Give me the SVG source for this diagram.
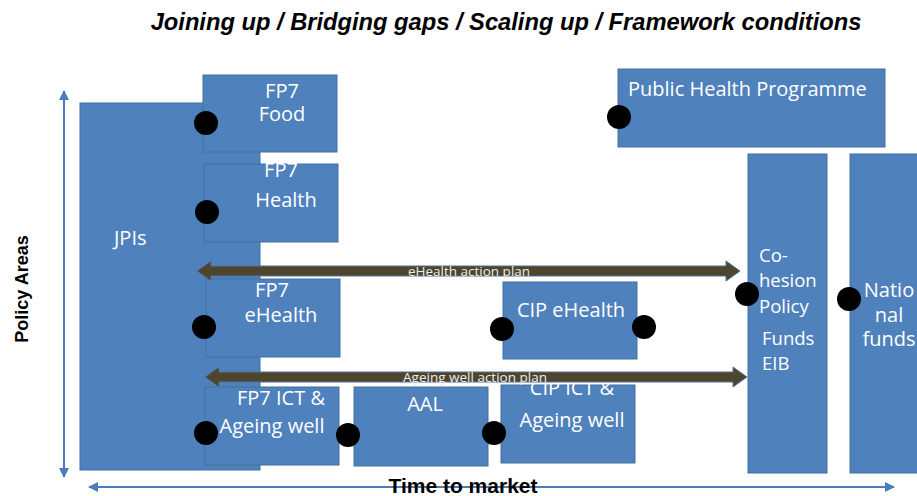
<svg xmlns="http://www.w3.org/2000/svg" width="917" height="496" viewBox="0 0 917 496">
<defs>
<style>
.box{fill:#4f81bd;stroke:#41709f;stroke-width:1}
.lbl{fill:#ffffff;font-family:"Open Sans","Noto Sans",sans-serif;font-size:20px}
.lbl18{fill:#ffffff;font-family:"Open Sans","Noto Sans",sans-serif;font-size:18.5px}
.dot{fill:#000000}
.axis{stroke:#4a7ebb;stroke-width:2;fill:none}
.plan{fill:#4d452c;stroke:#52709a;stroke-width:1}
.plbl{fill:#ececec;font-family:"Open Sans","Noto Sans",sans-serif;font-size:13.5px;text-anchor:middle}
.bold{font-family:"Liberation Sans",Arial,sans-serif;font-weight:bold;fill:#000}
</style>
<marker id="ah" viewBox="0 0 10 10" refX="9" refY="5" markerWidth="5" markerHeight="5" orient="auto-start-reverse" markerUnits="strokeWidth">
<path d="M0,0 L10,5 L0,10 z" fill="#4a7ebb"/>
</marker>
</defs>
<rect width="917" height="496" fill="#ffffff"/>

<text class="bold" x="506" y="30" font-size="23.7" font-style="italic" text-anchor="middle">Joining up / Bridging gaps / Scaling up / Framework conditions</text>

<g id="axes">
<line class="axis" x1="64" y1="477" x2="64" y2="91" marker-start="url(#ah)" marker-end="url(#ah)"/>
<line class="axis" x1="89" y1="487" x2="894" y2="487" marker-start="url(#ah)" marker-end="url(#ah)"/>
<text class="bold" font-size="18" text-anchor="middle" transform="translate(28,289) rotate(-90)">Policy Areas</text>
<text class="bold" font-size="21" x="463" y="493" text-anchor="middle">Time to market</text>
</g>

<g id="jpis">
<rect class="box" x="80" y="103" width="180" height="367"/>
<text class="lbl" x="114" y="245">JPIs</text>
</g>

<g id="fp7-food">
<rect class="box" x="203" y="75" width="134" height="77"/>
<text class="lbl" x="282" y="98" text-anchor="middle">FP7</text>
<text class="lbl" x="282" y="121" text-anchor="middle">Food</text>
<circle class="dot" cx="206" cy="123" r="12"/>
</g>

<g id="fp7-health">
<rect class="box" x="204" y="164" width="134" height="78"/>
<text class="lbl" x="281" y="177" text-anchor="middle">FP7</text>
<text class="lbl" x="286" y="207" text-anchor="middle">Health</text>
<circle class="dot" cx="207" cy="212" r="12"/>
</g>

<g id="fp7-ehealth">
<rect class="box" x="206" y="279" width="134" height="78"/>
<text class="lbl" x="272" y="297" text-anchor="middle">FP7</text>
<text class="lbl" x="281" y="322" text-anchor="middle">eHealth</text>
<circle class="dot" cx="204" cy="327" r="12"/>
</g>

<g id="cip-ehealth">
<rect class="box" x="503" y="282" width="134" height="77"/>
<text class="lbl" x="571" y="317" text-anchor="middle">CIP eHealth</text>
<circle class="dot" cx="502" cy="329" r="12"/>
<circle class="dot" cx="644" cy="327" r="12"/>
</g>

<g id="fp7-ict-ageing">
<rect class="box" x="205" y="387" width="134" height="78"/>
<text class="lbl" x="281" y="405" text-anchor="middle">FP7 ICT &amp;</text>
<text class="lbl" x="272" y="433" text-anchor="middle">Ageing well</text>
<circle class="dot" cx="206" cy="433" r="12"/>
</g>

<g id="aal">
<rect class="box" x="354" y="387" width="134" height="79"/>
<text class="lbl" x="425" y="411" text-anchor="middle">AAL</text>
<circle class="dot" cx="348" cy="435" r="12"/>
</g>

<g id="cip-ict-ageing">
<rect class="box" x="501" y="385" width="134" height="78"/>
<text class="lbl" x="572" y="395" text-anchor="middle">CIP ICT &amp;</text>
<text class="lbl" x="572" y="427" text-anchor="middle">Ageing well</text>
<circle class="dot" cx="494" cy="433" r="12"/>
</g>

<g id="public-health">
<rect class="box" x="618" y="69" width="267" height="78"/>
<text class="lbl" x="628" y="96">Public Health Programme</text>
<circle class="dot" cx="619" cy="117" r="12"/>
</g>

<g id="cohesion">
<rect class="box" x="748" y="154" width="79" height="319"/>
<text class="lbl18" x="759" y="262">Co-</text>
<text class="lbl18" x="759" y="287">hesion</text>
<text class="lbl18" x="759" y="313">Policy</text>
<text class="lbl18" x="762" y="345">Funds</text>
<text class="lbl18" x="762" y="370">EIB</text>
<circle class="dot" cx="747" cy="294" r="12"/>
</g>

<g id="national">
<rect class="box" x="850" y="154" width="80" height="319"/>
<text class="lbl" x="889" y="297" font-size="19" text-anchor="middle">Natio</text>
<text class="lbl" x="889" y="322" font-size="19" text-anchor="middle">nal</text>
<text class="lbl" x="889" y="346" font-size="19" text-anchor="middle">funds</text>
<circle class="dot" cx="849" cy="299" r="12"/>
</g>

<g id="connectors">
<polygon class="plan" points="197,271 211,261 211,266 726,266 726,261 740,271 726,281 726,276 211,276 211,281"/>
<text class="plbl" x="469" y="276">eHealth action plan</text>
<polygon class="plan" points="205,377 219,367 219,372 733,372 733,367 747,377 733,387 733,382 219,382 219,387"/>
<text class="plbl" x="475" y="382">Ageing well action plan</text>
</g>
</svg>
